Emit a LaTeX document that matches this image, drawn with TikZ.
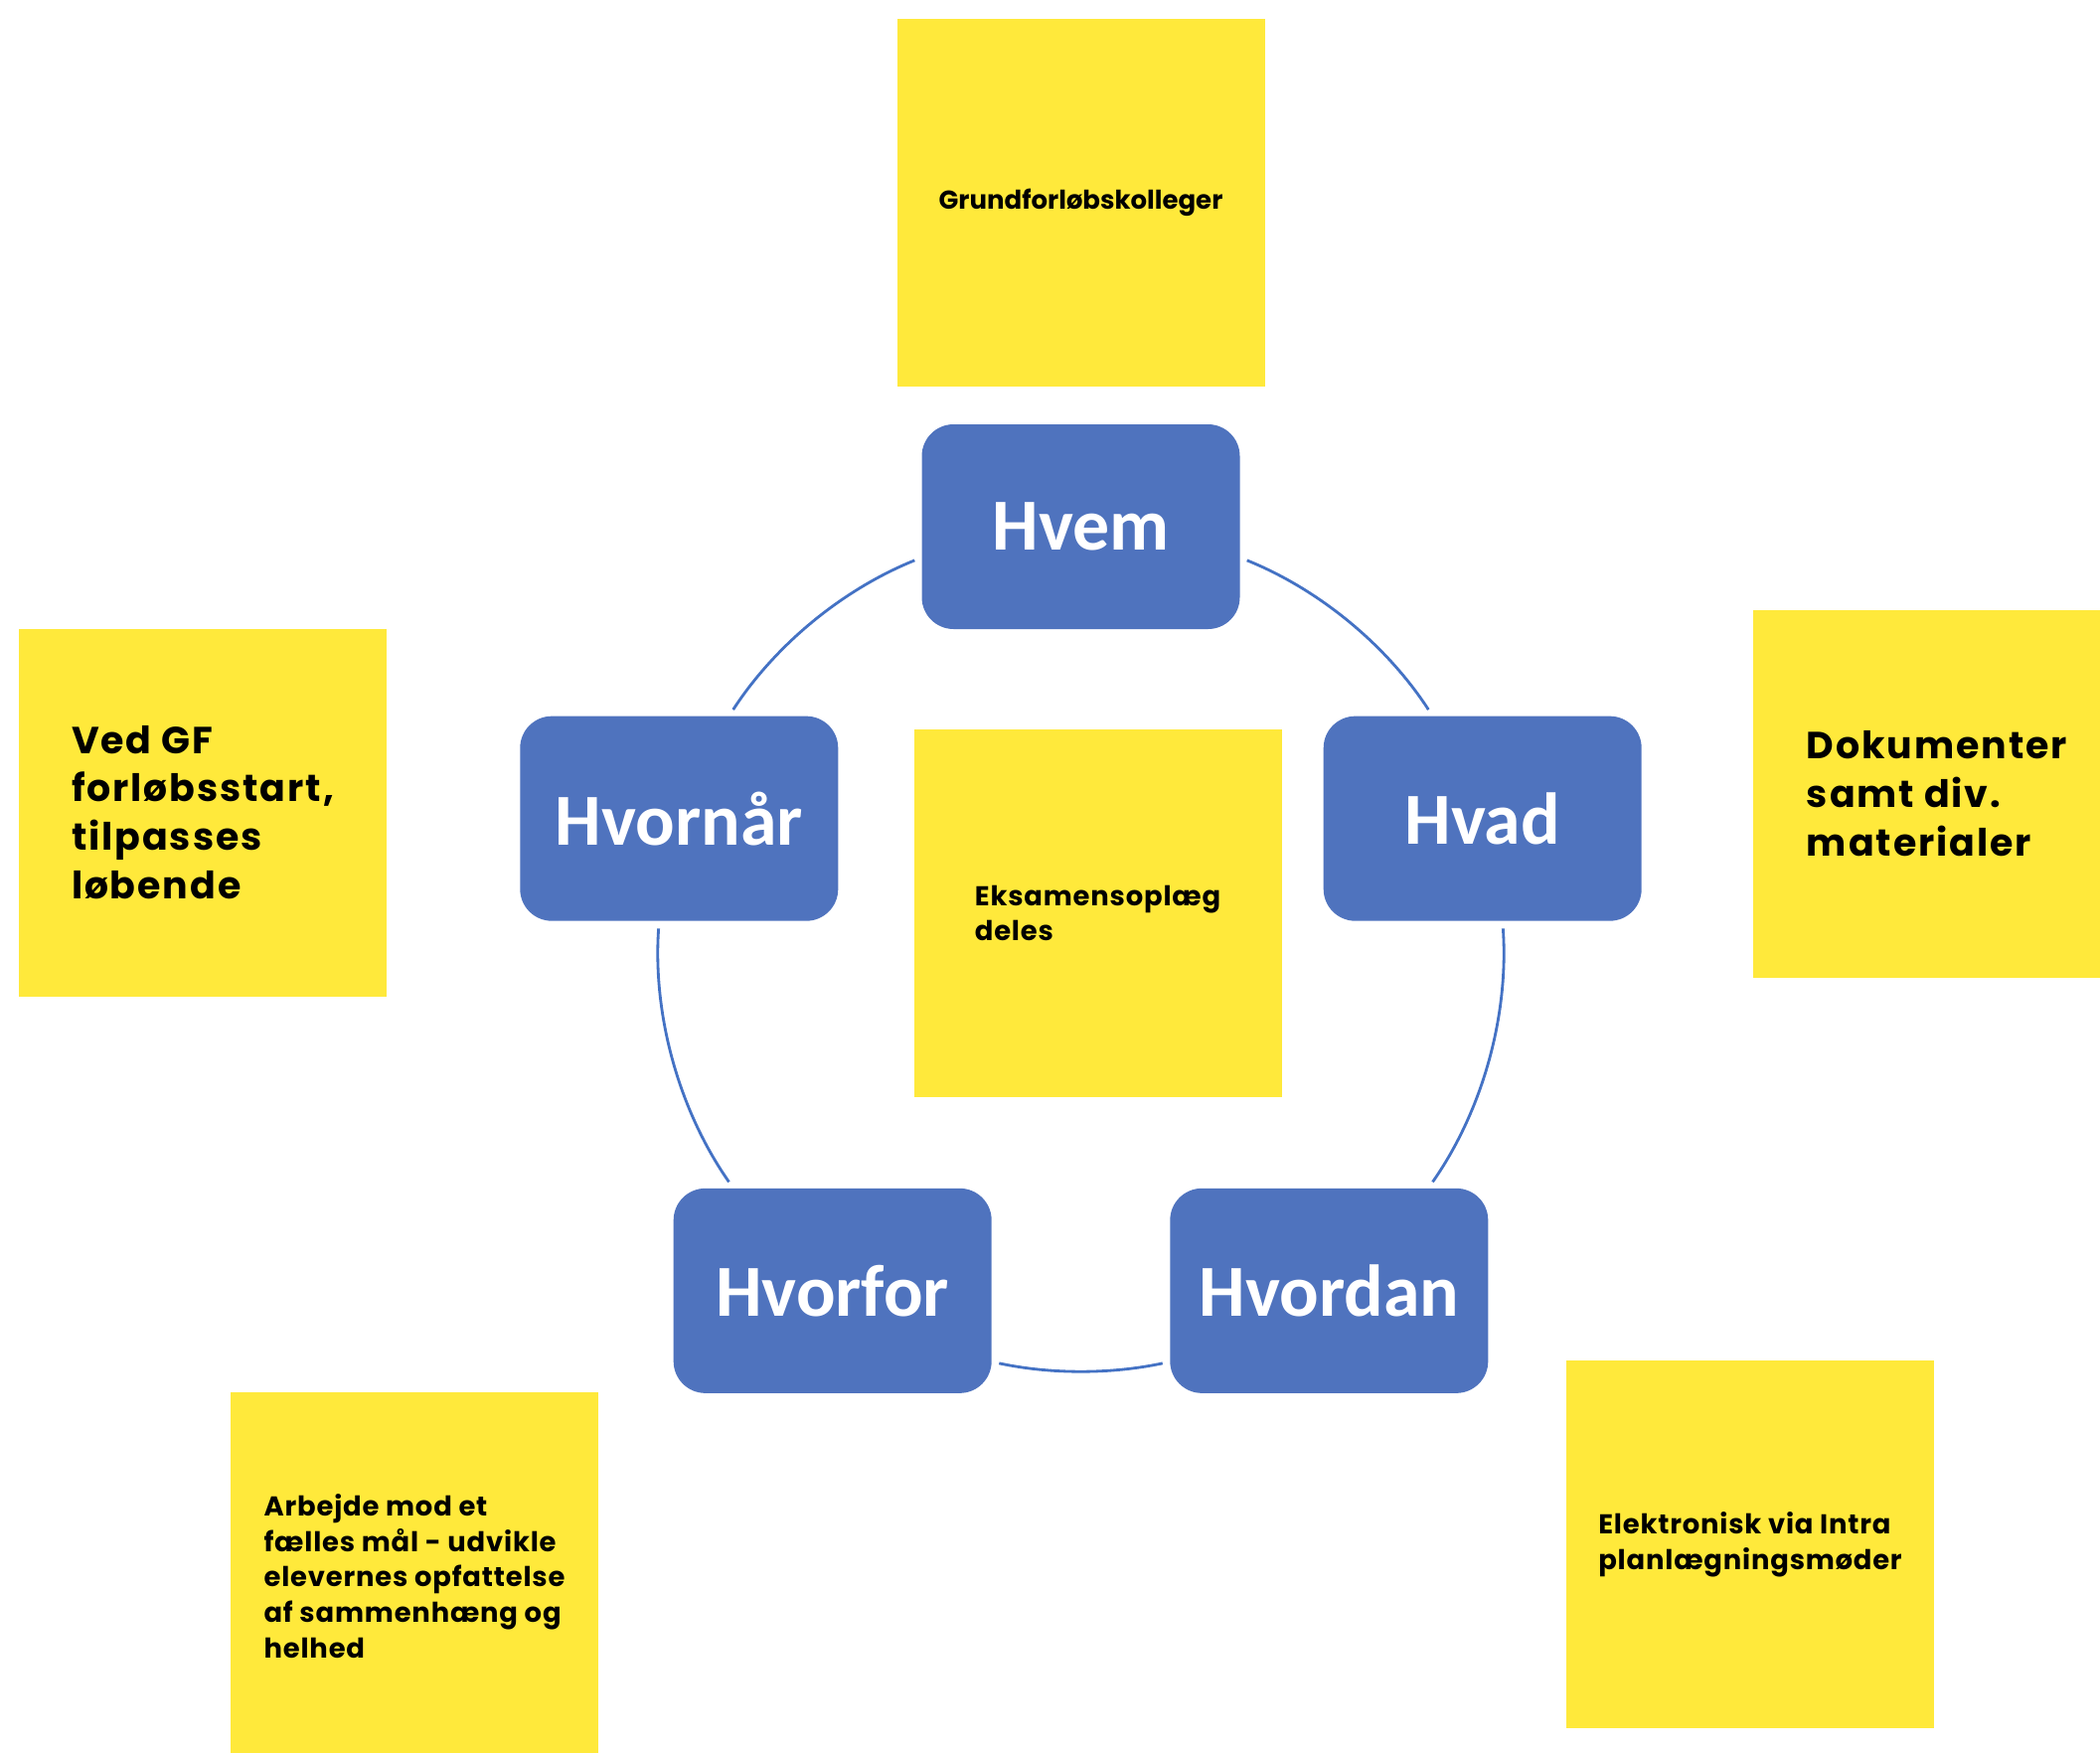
\documentclass[tikz,border=0pt]{standalone}
\usepackage{fontspec}
\setmainfont{Poppins}
\newfontfamily\labelfont{Carlito}
\usetikzlibrary{positioning}
\definecolor{boxblue}{RGB}{79,115,190}
\definecolor{lineblue}{RGB}{68,114,196}
\definecolor{noteyellow}{RGB}{255,233,59}

\begin{document}
\begin{tikzpicture}[
node distance=0.37cm,
box/.style={fill=boxblue, rounded corners=0.32cm,
minimum width=3.2cm, minimum height=2.06cm,
text=white, font=\labelfont\bfseries\fontsize{21}{24}\selectfont},
note/.style={fill=noteyellow, minimum width=3.7cm,
minimum height=3.7cm, inner sep=0pt, align=left,
font=\bfseries\fontsize{7.8}{10.2}\selectfont\addfontfeature{LetterSpace=3}},
topnote/.style={note, font=\bfseries\fontsize{7.4}{10.1}\selectfont},
bignote/.style={note,
font=\bfseries\fontsize{10.8}{13.9}\selectfont\addfontfeature{LetterSpace=5}},
ring/.style={lineblue, line width=0.8pt, looseness=0.87,
shorten <=2pt, shorten >=2pt}
]
\useasboundingbox (0,0) rectangle (21.13,-17.64);

% the five questions on a circle
\coordinate (ctr) at (10.875,-9.55);
\node[box] (hvem) at ([shift={(90:4.25)}]ctr) {Hvem};
\node[box] (hvad) at ([shift={(18:4.25)}]ctr) {Hvad};
\node[box] (hvordan) at ([shift={(-54:4.25)}]ctr) {Hvordan};
\node[box] (hvorfor) at ([shift={(-126:4.25)}]ctr) {Hvorfor};
\node[box] (hvornaar) at ([shift={(162:4.25)}]ctr) {Hvornår};

\draw[ring] (hvem.-11) to[out=-22, in=123] (hvad.116);
\draw[ring] (hvad.-79) to[out=-86, in=55] (hvordan.46);
\draw[ring] (hvordan.204) to[out=192, in=-12] (hvorfor.-24);
\draw[ring] (hvorfor.134) to[out=125, in=-94] (hvornaar.-101);
\draw[ring] (hvornaar.64) to[out=57, in=202] (hvem.191);

% sticky notes
\node[topnote, above=of hvem] (hvemnote) {Grundforløbskolleger};
\node[note] (midnote) at (11.045,-9.19) {Eksamensoplæg\\deles};
\node[bignote] (hvornaarnote) at (2.04,-8.175)
{Ved GF\\forløbsstart,\\tilpasses\\løbende};
\node[bignote] (hvadnote) at (19.49,-7.985)
{Dokumenter\\samt div.\\materialer};
\node[note] (hvorfornote) at (4.17,-15.86)
{Arbejde mod et\\fælles mål - udvikle\\elevernes opfattelse\\af sammenhæng og\\helhed};
\node[note] (hvordannote) at (17.61,-15.54)
{Elektronisk via Intra\\planlægningsmøder};

\end{tikzpicture}
\end{document}
